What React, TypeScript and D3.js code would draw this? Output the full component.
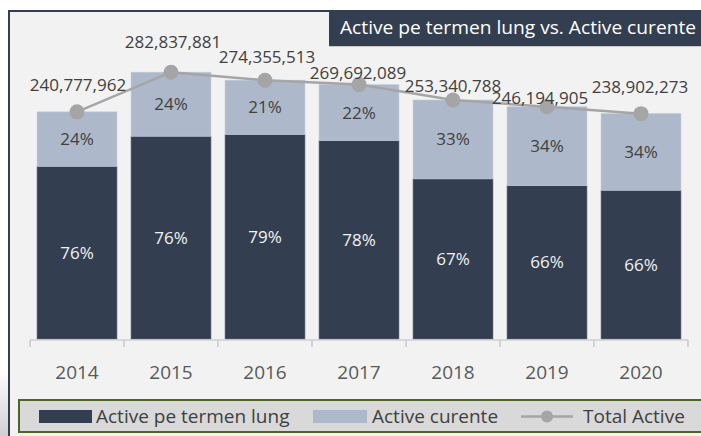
import React, { useEffect, useRef } from 'react';
import * as d3 from 'd3';

// data
const years = ['2014', '2015', '2016', '2017', '2018', '2019', '2020'];
const totalActive = [240777962, 282837881, 274355513, 269692089, 253340788, 246194905, 238902273];
const pctLongTerm = [76, 76, 79, 78, 67, 66, 66];
const pctCurrent = [24, 24, 21, 22, 33, 34, 34];
const seriesNames = ['Active pe termen lung', 'Active curente', 'Total Active'];
const title = 'Active pe termen lung vs. Active curente';

// manual label nudges (like Excel's dragged labels)
const labelDx = [1, 2, 2, -1, 0, -7, -1];
const labelDy = [-27, -30, -23, -12, -14, -9, -27];

const W = 701;
const H = 436;
const DARK = '#333f50';
const LIGHT = '#adb9ca';
const LINE = '#a5a5a5';
const TEXT = '#404040';
const FONT = '"Open Sans", "Noto Sans", sans-serif';

const App = () => {
  const ref = useRef<SVGSVGElement>(null);

  useEffect(() => {
    const svg = d3.select(ref.current);
    svg.selectAll('*').remove();

    const rows = years.map((year, i) => ({
      year,
      total: totalActive[i],
      longTerm: (totalActive[i] * pctLongTerm[i]) / 100,
      current: (totalActive[i] * pctCurrent[i]) / 100,
      pl: pctLongTerm[i],
      pc: pctCurrent[i],
    }));

    const x = d3.scaleBand()
      .domain(years)
      .range([30, 688])
      .paddingInner(0.15)
      .paddingOuter(0.075);

    const y = d3.scaleLinear()
      .domain([0, 300e6])
      .range([339, 56]);

    // soft shadow at the bottom left
    const defs = svg.append('defs');
    const grad = defs.append('linearGradient')
      .attr('id', 'glow')
      .attr('x1', 0).attr('y1', 0).attr('x2', 0).attr('y2', 1);
    grad.append('stop').attr('offset', '0%').attr('stop-color', '#ffffff');
    grad.append('stop').attr('offset', '100%').attr('stop-color', '#d0d0d0');
    svg.append('rect')
      .attr('x', 0).attr('y', 370).attr('width', 8).attr('height', H - 370)
      .attr('fill', 'url(#glow)');

    // chart frame
    svg.append('rect')
      .attr('x', 9).attr('y', 11)
      .attr('width', W + 10).attr('height', H + 10)
      .attr('fill', '#f2f2f2')
      .attr('stroke', DARK)
      .attr('stroke-width', 2);

    // title box
    svg.append('rect')
      .attr('x', 329).attr('y', 10)
      .attr('width', W - 329 + 5).attr('height', 36)
      .attr('fill', DARK);
    svg.append('line')
      .attr('x1', 329).attr('x2', W)
      .attr('y1', 46.5).attr('y2', 46.5)
      .attr('stroke', '#c8c8c8');
    svg.append('text')
      .attr('x', 340).attr('y', 34)
      .attr('fill', '#ffffff')
      .attr('textLength', 356)
      .attr('lengthAdjust', 'spacingAndGlyphs')
      .style('font-family', FONT)
      .style('font-size', '19px')
      .text(title);

    // stacked bars
    const g = svg.append('g');
    g.selectAll('rect.lt')
      .data(rows)
      .enter().append('rect')
      .attr('class', 'lt')
      .attr('x', d => x(d.year)!)
      .attr('y', d => y(d.longTerm))
      .attr('width', x.bandwidth())
      .attr('height', d => y(0) - y(d.longTerm))
      .attr('fill', DARK)
      .attr('stroke', '#5a6578')
      .attr('stroke-width', 0.6);

    g.selectAll('rect.cur')
      .data(rows)
      .enter().append('rect')
      .attr('class', 'cur')
      .attr('x', d => x(d.year)!)
      .attr('y', d => y(d.total))
      .attr('width', x.bandwidth())
      .attr('height', d => y(d.longTerm) - y(d.total))
      .attr('fill', LIGHT)
      .attr('stroke', '#c3cbd8')
      .attr('stroke-width', 0.6);

    // percentage labels
    g.selectAll('text.plt')
      .data(rows)
      .enter().append('text')
      .attr('x', d => x(d.year)! + x.bandwidth() / 2)
      .attr('y', d => (y(0) + y(d.longTerm)) / 2)
      .attr('dy', '0.35em')
      .attr('text-anchor', 'middle')
      .attr('fill', '#f2f2f2')
      .style('font-family', FONT)
      .style('font-size', '17px')
      .text(d => `${d.pl}%`);

    g.selectAll('text.pc')
      .data(rows)
      .enter().append('text')
      .attr('x', d => x(d.year)! + x.bandwidth() / 2)
      .attr('y', d => (y(d.longTerm) + y(d.total)) / 2)
      .attr('dy', '0.35em')
      .attr('text-anchor', 'middle')
      .attr('fill', TEXT)
      .style('font-family', FONT)
      .style('font-size', '17px')
      .text(d => `${d.pc}%`);

    // x axis
    const axis = svg.append('g').attr('transform', 'translate(0,340)');
    axis.append('line')
      .attr('x1', 30).attr('x2', 688)
      .attr('stroke', '#bfbfbf').attr('stroke-width', 1.2);
    const bounds = years.map(yr => x(yr)! - x.step() * x.paddingInner() / 2).concat([688]);
    axis.selectAll('line.tick')
      .data(bounds)
      .enter().append('line')
      .attr('x1', d => d).attr('x2', d => d)
      .attr('y1', 0).attr('y2', 7)
      .attr('stroke', '#bfbfbf').attr('stroke-width', 1.2);
    axis.selectAll('text')
      .data(years)
      .enter().append('text')
      .attr('x', d => x(d)! + x.bandwidth() / 2)
      .attr('y', 32)
      .attr('dy', '0.35em')
      .attr('text-anchor', 'middle')
      .attr('fill', '#595959')
      .style('font-family', FONT)
      .style('font-size', '19px')
      .text(d => d);

    // total line
    const line = d3.line<typeof rows[0]>()
      .x(d => x(d.year)! + x.bandwidth() / 2)
      .y(d => y(d.total));
    svg.append('path')
      .datum(rows)
      .attr('d', line)
      .attr('fill', 'none')
      .attr('stroke', LINE)
      .attr('stroke-width', 2.5);
    svg.selectAll('circle.pt')
      .data(rows)
      .enter().append('circle')
      .attr('cx', d => x(d.year)! + x.bandwidth() / 2)
      .attr('cy', d => y(d.total))
      .attr('r', 7.5)
      .attr('fill', LINE);

    svg.selectAll('text.tot')
      .data(rows)
      .enter().append('text')
      .attr('x', (d, i) => x(d.year)! + x.bandwidth() / 2 + labelDx[i])
      .attr('y', (d, i) => y(d.total) + labelDy[i])
      .attr('dy', '0.35em')
      .attr('text-anchor', 'middle')
      .attr('fill', TEXT)
      .style('font-family', FONT)
      .style('font-size', '17px')
      .text(d => d3.format(',')(d.total));

    // legend
    const lg = svg.append('g');
    lg.append('rect')
      .attr('x', 19).attr('y', 400)
      .attr('width', W).attr('height', 32)
      .attr('fill', '#d9d9d9')
      .attr('stroke', '#4f6228')
      .attr('stroke-width', 2);
    lg.append('rect')
      .attr('x', 39).attr('y', 410).attr('width', 53).attr('height', 13)
      .attr('fill', DARK);
    lg.append('rect')
      .attr('x', 313).attr('y', 410).attr('width', 54).attr('height', 13)
      .attr('fill', LIGHT);
    lg.append('line')
      .attr('x1', 521).attr('x2', 573).attr('y1', 416.5).attr('y2', 416.5)
      .attr('stroke', LINE).attr('stroke-width', 2.5);
    lg.append('circle')
      .attr('cx', 547).attr('cy', 416.5).attr('r', 6)
      .attr('fill', LINE);
    const legendX = [96, 372, 583];
    lg.selectAll('text')
      .data(seriesNames)
      .enter().append('text')
      .attr('x', (d, i) => legendX[i])
      .attr('y', 416.5)
      .attr('dy', '0.35em')
      .attr('fill', TEXT)
      .style('font-family', FONT)
      .style('font-size', '19px')
      .text(d => d);
  }, []);

  return (
    <svg
      ref={ref}
      width={W}
      height={H}
      style={{ position: 'absolute', left: 0, top: 0, background: '#ffffff' }}
    />
  );
};

export default App;
